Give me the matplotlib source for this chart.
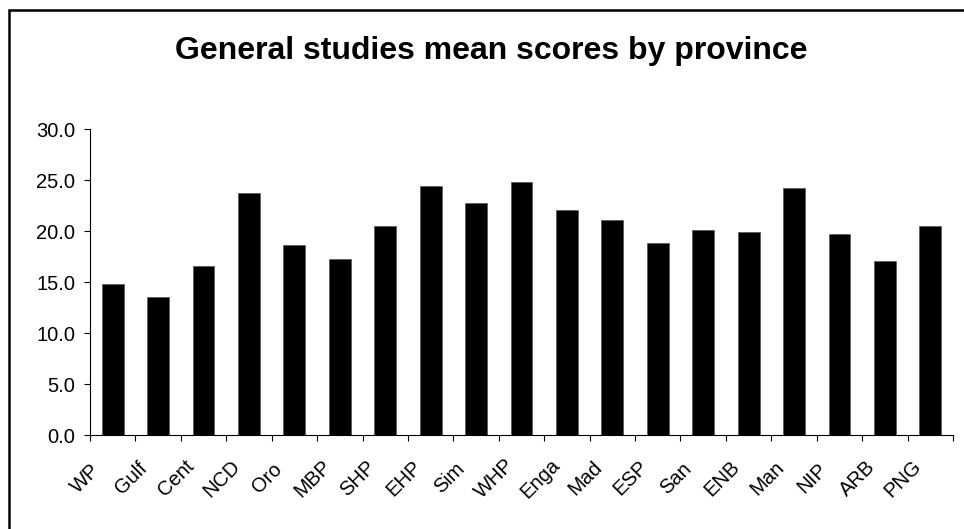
import matplotlib
matplotlib.use("Agg")
import matplotlib.pyplot as plt
from matplotlib.patches import Rectangle
from matplotlib.transforms import ScaledTranslation
import numpy as np

provinces = ["WP", "Gulf", "Cent", "NCD", "Oro", "MBP", "SHP", "EHP", "Sim", "WHP",
             "Enga", "Mad", "ESP", "San", "ENB", "Man", "NIP", "ARB", "PNG"]
mean_scores = [14.8, 13.6, 16.6, 23.8, 18.7, 17.3, 20.5, 24.4, 22.8, 24.8,
               22.1, 21.1, 18.9, 20.1, 19.9, 24.2, 19.7, 17.1, 20.5]
y_ticks = [0, 5, 10, 15, 20, 25, 30]

plt.rcParams["font.family"] = ["Liberation Sans", "DejaVu Sans"]

W, H, DPI = 964, 529, 100
fig = plt.figure(figsize=(W / DPI, H / DPI), dpi=DPI)
ax = fig.add_axes([90 / W, 1 - 435.3 / H, 863 / W, 306 / H])

x = np.arange(len(provinces))
ax.bar(x, mean_scores, width=0.48, color="black", edgecolor="#555555", linewidth=0.5)

ax.set_xlim(-0.5, len(provinces) - 0.5)
ax.set_ylim(0, 30)
ax.set_yticks(y_ticks)
ax.set_yticklabels([f"{v:.1f}" for v in y_ticks], fontsize=14.5)

# ticks between categories, labels at category centres
ax.set_xticks(np.arange(-0.5, len(provinces), 1.0))
ax.set_xticklabels([])
ax.set_xticks(x, minor=True)
ax.set_xticklabels(provinces, minor=True, rotation=45, ha="center", va="center",
                   fontsize=14.5)
ax.tick_params(axis="x", which="minor", length=0, pad=31)
ax.tick_params(axis="x", which="major", direction="out", length=4.5, width=0.8)
ax.tick_params(axis="y", direction="out", length=4.5, width=0.8, pad=6)
shift = ScaledTranslation(-27 / DPI, 0, fig.dpi_scale_trans)
for lbl in ax.get_xticklabels(minor=True):
    lbl.set_transform(lbl.get_transform() + shift)

for side in ("top", "right"):
    ax.spines[side].set_visible(False)
for side in ("left", "bottom"):
    ax.spines[side].set_linewidth(0.8)

fig.text(491 / W, 1 - 59 / H, "General studies mean scores by province",
         ha="center", va="baseline", fontsize=23, fontweight="bold")

# chart area border
fig.patches.append(Rectangle((8.7 / W, -0.2), 1.2, 1.2 - 9.5 / H,
                             transform=fig.transFigure, fill=False,
                             edgecolor="black", linewidth=1.8))

fig.savefig("out.png", dpi=DPI, facecolor="white")
